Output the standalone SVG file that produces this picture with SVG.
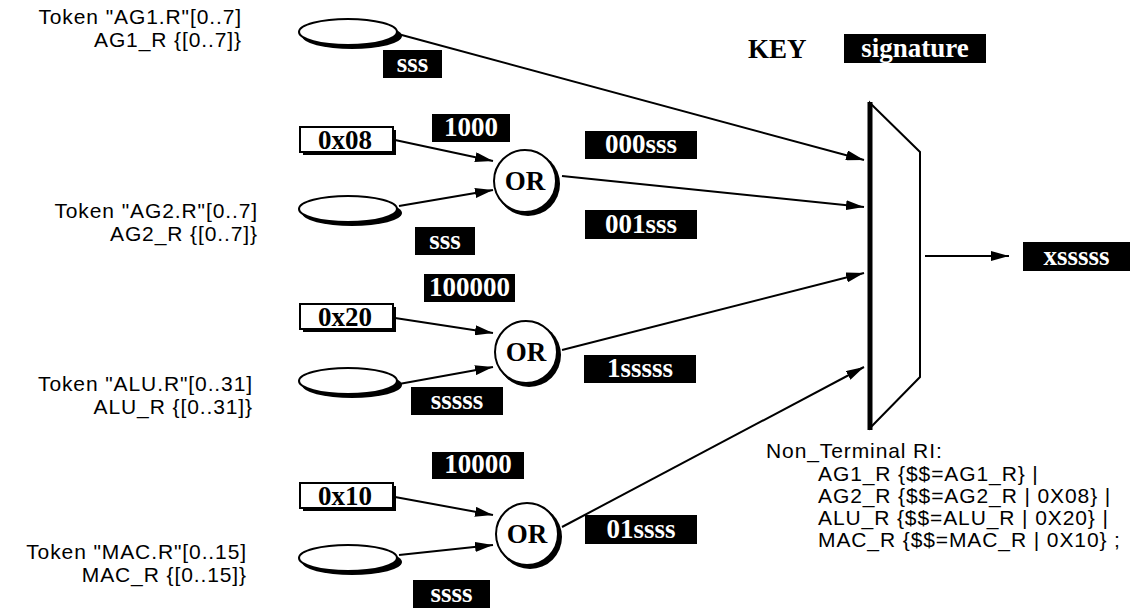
<svg xmlns="http://www.w3.org/2000/svg" width="1142" height="610" viewBox="0 0 1142 610">
  <defs>
    <marker id="arrow" viewBox="0 0 18 10" refX="18" refY="5" markerWidth="18" markerHeight="10" markerUnits="userSpaceOnUse" orient="auto">
      <path d="M0,0 L18,5 L0,10 Z" fill="#000"/>
    </marker>
    <style>
      .sans { font-family: "Liberation Sans", Arial, sans-serif; font-size: 21px; letter-spacing: 0.9px; fill: #000; }
      .bold { font-family: "Liberation Serif", "Times New Roman", serif; font-weight: bold; font-size: 27px; }
      .lbl rect { fill: #000; }
      .lbl text { fill: #fff; text-anchor: middle; }
      .const text { fill: #000; text-anchor: middle; }
      .outline { fill: #fff; stroke: #000; stroke-width: 2; }
      .shadow { fill: #000; }
      .wire { stroke: #000; stroke-width: 2; fill: none; }
      .arrow { marker-end: url(#arrow); }
    </style>
  </defs>
  <rect width="1142" height="610" fill="#fff"/>

  <!-- token descriptions -->
  <g id="tok-ag1" class="sans" text-anchor="end">
    <text x="242" y="24">Token "AG1.R"[0..7]</text>
    <text x="242" y="47">AG1_R {[0..7]}</text>
  </g>
  <g id="tok-ag2" class="sans" text-anchor="end">
    <text x="258" y="218">Token "AG2.R"[0..7]</text>
    <text x="258" y="241">AG2_R {[0..7]}</text>
  </g>
  <g id="tok-alu" class="sans" text-anchor="end">
    <text x="253" y="391">Token "ALU.R"[0..31]</text>
    <text x="253" y="414">ALU_R {[0..31]}</text>
  </g>
  <g id="tok-mac" class="sans" text-anchor="end">
    <text x="247" y="559">Token "MAC.R"[0..15]</text>
    <text x="247" y="582">MAC_R {[0..15]}</text>
  </g>

  <!-- connectors -->
  <g id="connectors" class="wire">
    <line class="arrow" x1="398" y1="34" x2="864" y2="160"/>
    <line class="arrow" x1="395" y1="140" x2="493" y2="161"/>
    <line class="arrow" x1="399" y1="206" x2="493" y2="190"/>
    <line class="arrow" x1="562" y1="176" x2="864" y2="207"/>
    <line class="arrow" x1="395" y1="318" x2="493" y2="333"/>
    <line class="arrow" x1="399" y1="384" x2="493" y2="367"/>
    <line class="arrow" x1="562" y1="350" x2="864" y2="273"/>
    <line class="arrow" x1="395" y1="497" x2="493" y2="515"/>
    <line class="arrow" x1="399" y1="555" x2="493" y2="545"/>
    <line class="arrow" x1="562" y1="527" x2="864" y2="367"/>
    <line class="arrow" x1="925" y1="256" x2="1009" y2="256"/>
  </g>

  <!-- token ellipses (dark offset copy gives the drop shadow) -->
  <g id="ell-ag1">
    <ellipse class="shadow" cx="352" cy="36" rx="50" ry="13"/>
    <ellipse class="outline" cx="348" cy="32" rx="49" ry="13"/>
  </g>
  <g id="ell-ag2">
    <ellipse class="shadow" cx="352" cy="213" rx="50" ry="13"/>
    <ellipse class="outline" cx="348" cy="209" rx="49" ry="13"/>
  </g>
  <g id="ell-alu">
    <ellipse class="shadow" cx="352" cy="385" rx="50" ry="13"/>
    <ellipse class="outline" cx="348" cy="381" rx="49" ry="13"/>
  </g>
  <g id="ell-mac">
    <ellipse class="shadow" cx="352" cy="562" rx="50" ry="13"/>
    <ellipse class="outline" cx="348" cy="558" rx="49" ry="13"/>
  </g>

  <!-- constant boxes -->
  <g id="const-08" class="const bold">
    <rect class="shadow" x="303" y="130" width="93" height="25"/>
    <rect class="outline" x="300" y="127" width="93" height="25"/>
    <text x="345" y="149">0x08</text>
  </g>
  <g id="const-20" class="const bold">
    <rect class="shadow" x="303" y="307" width="93" height="25"/>
    <rect class="outline" x="300" y="304" width="93" height="25"/>
    <text x="345" y="326">0x20</text>
  </g>
  <g id="const-10" class="const bold">
    <rect class="shadow" x="303" y="486" width="93" height="25"/>
    <rect class="outline" x="300" y="483" width="93" height="25"/>
    <text x="345" y="505">0x10</text>
  </g>

  <!-- OR gates -->
  <g id="or-1" class="const bold">
    <circle class="shadow" cx="528" cy="184" r="32"/>
    <circle class="outline" cx="525" cy="181" r="31"/>
    <text x="525" y="190">OR</text>
  </g>
  <g id="or-2" class="const bold">
    <circle class="shadow" cx="529" cy="355" r="32"/>
    <circle class="outline" cx="526" cy="352" r="31"/>
    <text x="526" y="361">OR</text>
  </g>
  <g id="or-3" class="const bold">
    <circle class="shadow" cx="530" cy="537" r="32"/>
    <circle class="outline" cx="527" cy="534" r="31"/>
    <text x="527" y="543">OR</text>
  </g>

  <!-- signature labels -->
  <g id="lbl-sss1" class="lbl bold"><rect x="383" y="50" width="59" height="28"/><text x="412.5" y="72">sss</text></g>
  <g id="lbl-1000" class="lbl bold"><rect x="432" y="114" width="78" height="28"/><text x="471" y="136">1000</text></g>
  <g id="lbl-000sss" class="lbl bold"><rect x="585" y="131" width="112" height="28"/><text x="641" y="153">000sss</text></g>
  <g id="lbl-001sss" class="lbl bold"><rect x="585" y="210" width="112" height="29"/><text x="641" y="233">001sss</text></g>
  <g id="lbl-sss2" class="lbl bold"><rect x="415" y="227" width="60" height="28"/><text x="445" y="249">sss</text></g>
  <g id="lbl-100000" class="lbl bold"><rect x="424" y="274" width="91" height="28"/><text x="469.5" y="296">100000</text></g>
  <g id="lbl-1sssss" class="lbl bold"><rect x="584" y="355" width="112" height="28"/><text x="640" y="377">1sssss</text></g>
  <g id="lbl-sssss" class="lbl bold"><rect x="411" y="387" width="92" height="28"/><text x="457" y="409">sssss</text></g>
  <g id="lbl-10000" class="lbl bold"><rect x="432" y="452" width="92" height="27"/><text x="478" y="473">10000</text></g>
  <g id="lbl-01ssss" class="lbl bold"><rect x="585" y="515" width="112" height="29"/><text x="641" y="538">01ssss</text></g>
  <g id="lbl-ssss" class="lbl bold"><rect x="413" y="580" width="77" height="28"/><text x="451.5" y="602">ssss</text></g>

  <!-- key legend -->
  <g id="key" class="bold">
    <text x="748" y="58">KEY</text>
    <g class="lbl"><rect x="844" y="34" width="142" height="29"/><text x="915" y="57">signature</text></g>
  </g>

  <!-- multiplexer -->
  <g id="mux">
    <path d="M870,103 L920,152 L920,377 L870,428 Z" fill="#fff" stroke="#000" stroke-width="2" stroke-linejoin="miter"/>
    <line x1="870" y1="102" x2="870" y2="430" stroke="#000" stroke-width="5"/>
  </g>

  <!-- result -->
  <g id="lbl-xsssss" class="lbl bold"><rect x="1023" y="242" width="107" height="29"/><text x="1076.5" y="265">xsssss</text></g>

  <!-- grammar rule -->
  <g id="rule" class="sans">
    <text x="766" y="458">Non_Terminal RI:</text>
    <text x="818" y="481">AG1_R {$$=AG1_R}  |</text>
    <text x="818" y="503">AG2_R {$$=AG2_R | 0X08}  |</text>
    <text x="818" y="525">ALU_R {$$=ALU_R | 0X20} |</text>
    <text x="818" y="547">MAC_R {$$=MAC_R | 0X10} ;</text>
  </g>
</svg>
